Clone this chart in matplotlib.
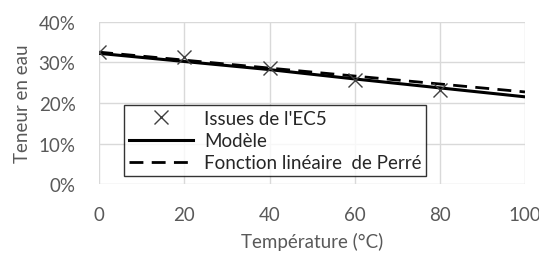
import numpy as np
import matplotlib.pyplot as plt
from matplotlib.ticker import PercentFormatter

# ── Data ──
temp_ec5 = [0, 20, 40, 60, 80]
teneur_ec5 = [0.325, 0.312, 0.285, 0.257, 0.232]

temp_model = [0, 20, 40, 60, 80, 100]
teneur_model = [0.322, 0.302, 0.282, 0.259, 0.237, 0.215]

temp_perre = [0, 100]
teneur_perre = [0.325, 0.227]

X_TICKS = [0, 20, 40, 60, 80, 100]
Y_TICKS = [0, 0.1, 0.2, 0.3, 0.4]

TXT = "#595959"
GRID = "#d9d9d9"
FS = 13.5
plt.rcParams["font.family"] = ["Lato", "DejaVu Sans"]

fig = plt.figure(figsize=(5.39, 2.55), dpi=100)
ax = fig.add_axes([0.184, 0.274, 0.790, 0.637])

ax.plot(temp_model, teneur_model, color="black", lw=2.2, label="Modèle", zorder=3)
ax.plot(temp_perre, teneur_perre, color="black", lw=2.0, ls=(0, (5, 3)),
        label="Fonction linéaire  de Perré", zorder=3)
ax.plot(temp_ec5, teneur_ec5, ls="none", marker="x", ms=10, mew=1.0,
        color="#404040", label="Issues de l'EC5", zorder=4)

ax.set_xlim(0, 100)
ax.set_ylim(0, 0.4)
ax.set_xticks(X_TICKS)
ax.set_yticks(Y_TICKS)
ax.yaxis.set_major_formatter(PercentFormatter(1.0, decimals=0))
ax.grid(True, color=GRID, lw=1.0)
ax.set_axisbelow(True)
for s in ax.spines.values():
    s.set_visible(False)
ax.tick_params(length=0, labelsize=FS, colors=TXT, pad=17)
ax.tick_params(axis="x", pad=16)

# axis titles pinned by baseline so they sit where the reference has them
ax.set_xlabel("Température (°C)", fontsize=FS, color=TXT, va="baseline")
ax.xaxis.set_label_coords(0.5, -0.388)
ax.set_ylabel("Teneur en eau", fontsize=FS, color=TXT, va="baseline")
ax.yaxis.set_label_coords(-0.167, 0.5)

h, l = ax.get_legend_handles_labels()
order = [2, 0, 1]
lgd = ax.legend([h[i] for i in order], [l[i] for i in order],
                loc="lower left", bbox_to_anchor=(0.059, 0.05),
                fontsize=FS, frameon=True, fancybox=False,
                handlelength=3.4, handletextpad=0.6, borderpad=0.25,
                labelspacing=0.28, borderaxespad=0)
lgd.get_frame().set_edgecolor("black")
lgd.get_frame().set_linewidth(1.0)
for t in lgd.get_texts():
    t.set_color("#262626")

fig.savefig("out.png", dpi=100)
